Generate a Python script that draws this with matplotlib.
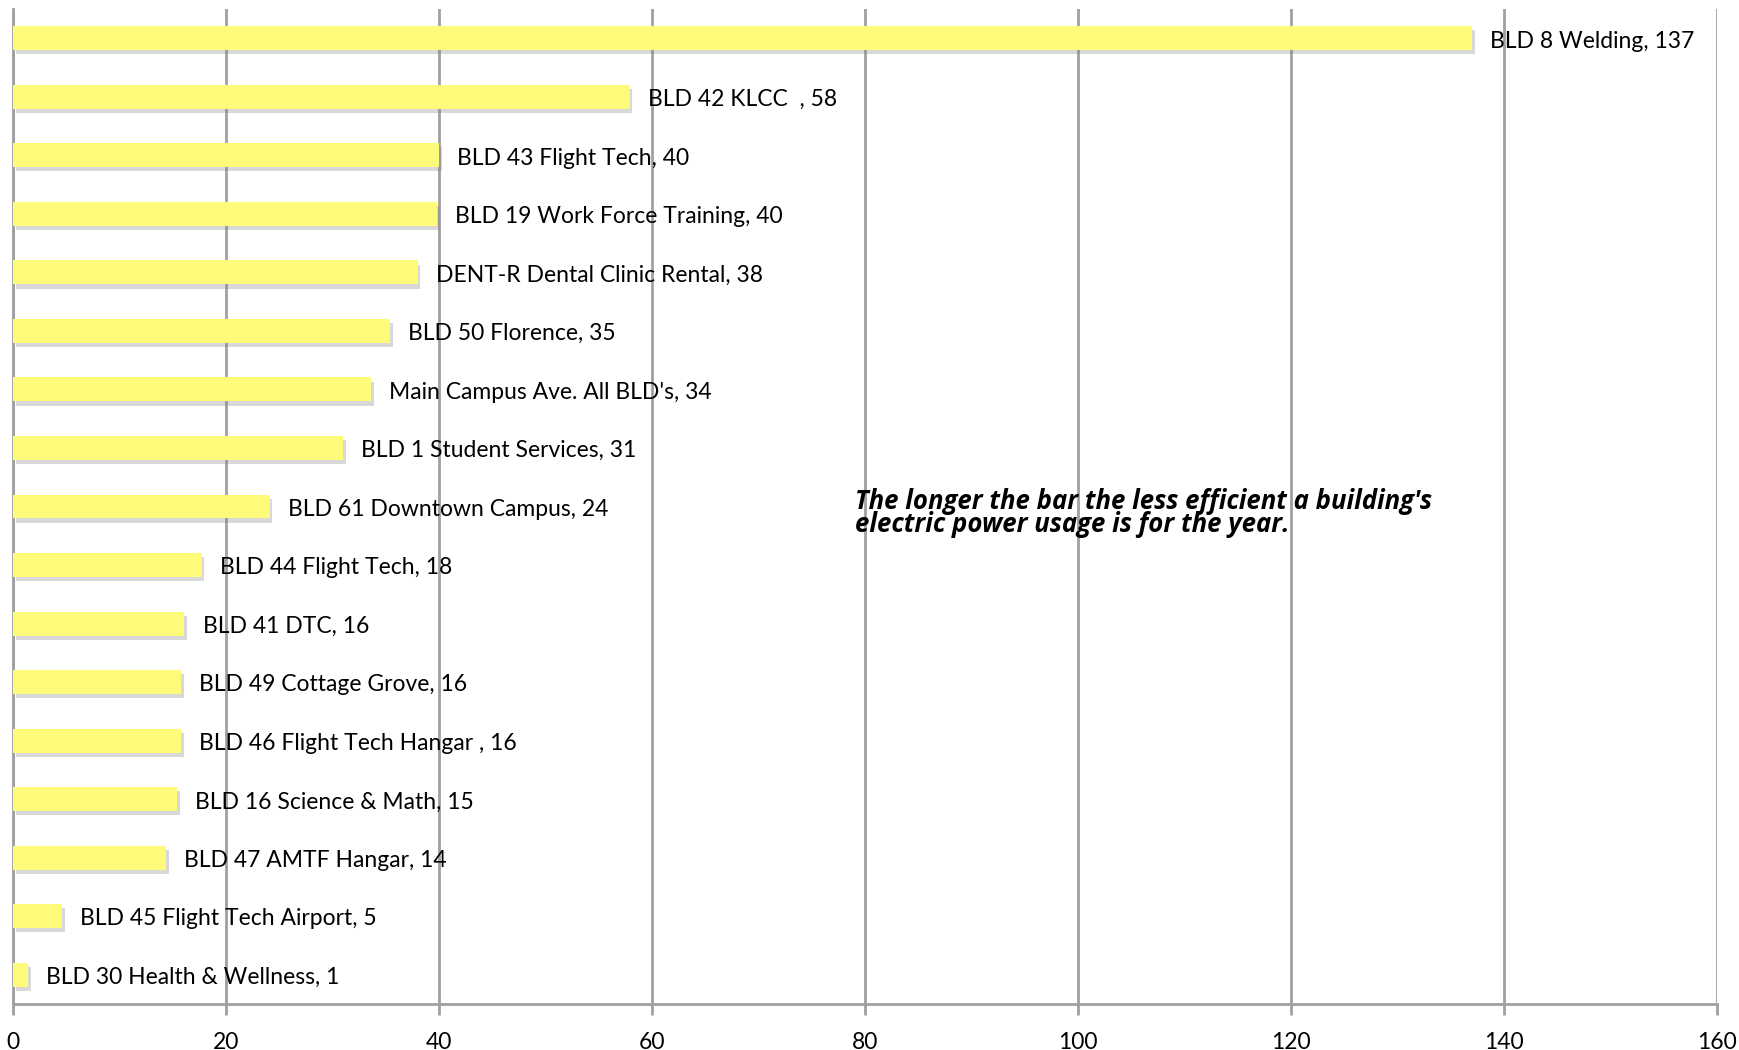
import matplotlib.pyplot as plt
import matplotlib.patheffects as pe
import numpy as np

# buildings, top to bottom as in the chart
buildings = ["BLD 8 Welding", "BLD 42 KLCC  ", "BLD 43 Flight Tech", "BLD 19 Work Force Training",
             "DENT-R Dental Clinic Rental", "BLD 50 Florence", "Main Campus Ave. All BLD's",
             "BLD 1 Student Services", "BLD 61 Downtown Campus", "BLD 44 Flight Tech",
             "BLD 41 DTC", "BLD 49 Cottage Grove", "BLD 46 Flight Tech Hangar ",
             "BLD 16 Science & Math", "BLD 47 AMTF Hangar", "BLD 45 Flight Tech Airport",
             "BLD 30 Health & Wellness"]
usage = [137.0, 57.9, 40.0, 39.8, 38.0, 35.4, 33.6, 31.0, 24.1, 17.7,
         16.1, 15.8, 15.8, 15.4, 14.4, 4.6, 1.4]
xticks = [0, 20, 40, 60, 80, 100, 120, 140, 160]

note = "The longer the bar the less efficient a building's\nelectric power usage is for the year."

plt.rcParams['font.family'] = ['Lato', 'DejaVu Sans']

fig = plt.figure(figsize=(17.39, 10.5), dpi=100)
ax = fig.add_axes([13 / 1739, 46 / 1050, 1704 / 1739, 995 / 1050])

grey = '#a0a0a0'
y = np.arange(len(buildings))[::-1]
bars = ax.barh(y, usage, height=0.41, color='#fefa7a', zorder=3)
for b in bars:
    b.set_path_effects([pe.SimplePatchShadow(offset=(2, -3), shadow_rgbFace='#808080', alpha=0.3),
                        pe.Normal()])

for yi, name, v in zip(y, buildings, usage):
    ax.annotate(f"{name}, {round(v)}", (v, yi), xytext=(13, -2), textcoords='offset points',
                va='center', ha='left', fontsize=16.5, color='black', zorder=5)

ax.set_xlim(0, 160)
ax.set_ylim(-0.5, len(buildings) - 0.5)
ax.set_xticks(xticks)
ax.set_yticks([])
ax.tick_params(axis='x', length=8, width=2, color=grey, labelsize=16.5, pad=12)
ax.grid(axis='x', color=grey, linewidth=2, zorder=0)
for s in ['top', 'right']:
    ax.spines[s].set_visible(False)
for s in ['left', 'bottom']:
    ax.spines[s].set_color(grey)
    ax.spines[s].set_linewidth(2)

fig.text(855 / 1739, 1 - 488 / 1050, note, fontsize=18.5, fontweight='bold', fontstyle='italic',
         family=['Open Sans', 'DejaVu Sans'], va='top', ha='left', linespacing=0.8)

fig.savefig('out.png', dpi=100)
